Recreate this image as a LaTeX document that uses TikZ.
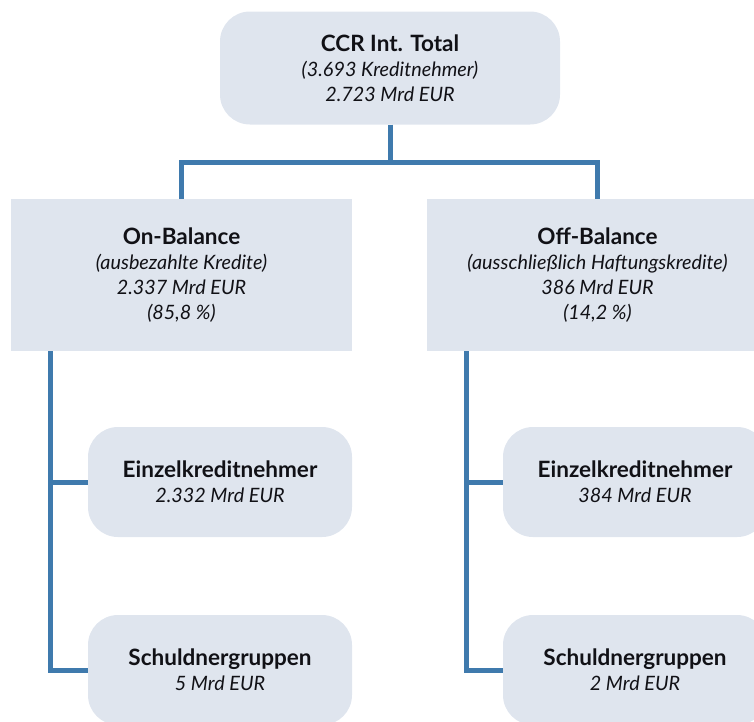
\documentclass[tikz,border=0pt]{standalone}
\usepackage{fontspec}
\setmainfont{Lato}
\definecolor{boxfill}{RGB}{223,229,238}
\definecolor{linecol}{RGB}{63,122,173}
\definecolor{txt}{RGB}{17,17,22}
\newcommand{\hdtxt}[1]{{\fontsize{22.5}{25}\selectfont\bfseries #1}}
\newcommand{\ittxt}[1]{{\fontsize{19.8}{25}\selectfont\itshape #1}}
\begin{document}
\begin{tikzpicture}[x=1pt,y=1pt,
  base/.style={fill=boxfill, draw=none, align=center, text=txt,
    font=\fontsize{19.8}{25}\selectfont, inner sep=0pt},
  roundbox/.style={base, rounded corners=30pt},
  squarebox/.style={base},
  conn/.style={draw=linecol, line width=5pt, line join=miter}]
\useasboundingbox (0,0) rectangle (754,-721);
% boxes
\node[roundbox, minimum width=340pt, minimum height=113pt] (top) at (390,-68)
  {\hdtxt{CCR Int. Total}\\\ittxt{(3.693 Kreditnehmer)}\\\ittxt{2.723 Mrd EUR}};
\node[squarebox, minimum width=341pt, minimum height=152pt] (on) at (181.5,-275)
  {\hdtxt{On-Balance}\\\ittxt{(ausbezahlte Kredite)}\\\ittxt{2.337 Mrd EUR}\\\ittxt{(85,8 \%)}};
\node[squarebox, minimum width=341pt, minimum height=152pt] (off) at (597.5,-275)
  {\hdtxt{Off-Balance}\\\ittxt{(ausschließlich Haftungskredite)}\\\ittxt{386 Mrd EUR}\\\ittxt{(14,2 \%)}};
\node[roundbox, minimum width=264pt, minimum height=110pt] (einzelL) at (220,-482)
  {\hdtxt{Einzelkreditnehmer}\\\ittxt{2.332 Mrd EUR}};
\node[roundbox, minimum width=264pt, minimum height=110pt] (schuldL) at (220,-670)
  {\hdtxt{Schuldnergruppen}\\\ittxt{5 Mrd EUR}};
\node[roundbox, minimum width=264pt, minimum height=110pt] (einzelR) at (635,-482)
  {\hdtxt{Einzelkreditnehmer}\\\ittxt{384 Mrd EUR}};
\node[roundbox, minimum width=264pt, minimum height=110pt] (schuldR) at (635,-670)
  {\hdtxt{Schuldnergruppen}\\\ittxt{2 Mrd EUR}};
% connectors
\coordinate (split) at (390,-162);
\draw[conn] (top.south) -- (split);
\draw[conn] (on.north) |- (split) -| (off.north);
\coordinate (lspine) at (50,-351);
\coordinate (rspine) at (466,-351);
\draw[conn] (lspine) |- (schuldL.west);
\draw[conn] (lspine |- einzelL.west) -- (einzelL.west);
\draw[conn] (rspine) |- (schuldR.west);
\draw[conn] (rspine |- einzelR.west) -- (einzelR.west);
\end{tikzpicture}
\end{document}
